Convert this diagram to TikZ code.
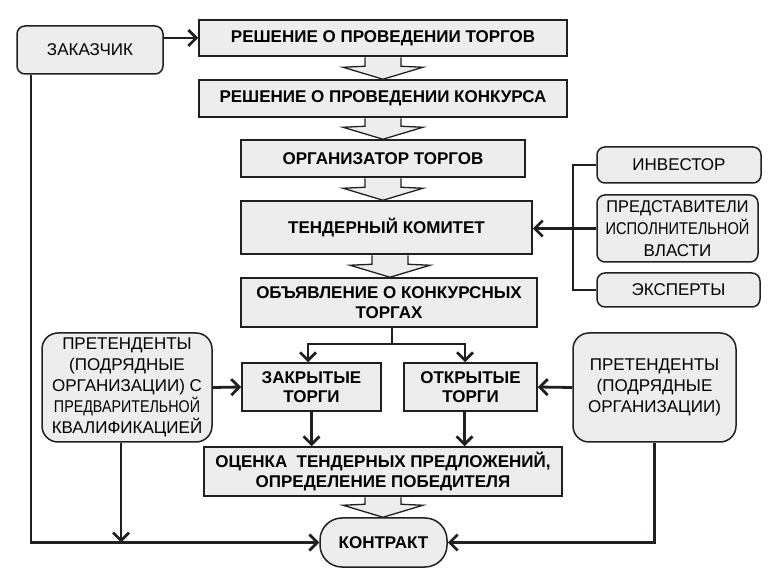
\documentclass[tikz,border=0pt]{standalone}
\usepackage{fontspec}
\setmainfont{Liberation Sans}
\usepackage{tikz}
\usetikzlibrary{calc,positioning,arrows.meta}
\definecolor{boxfill}{HTML}{EDEDED}
\definecolor{ink}{HTML}{231F20}
\tikzset{bx/.style={draw=ink,fill=boxfill,rectangle,line width=1.5pt,inner
sep=0pt,align=center,font=\fontsize{17}{19.5}\selectfont\bfseries},rb/.style={draw=ink,fill=boxfill,rectangle,rounded corners=8pt,line width=1.5pt,inner
sep=0pt,align=center,font=\fontsize{17}{21}\selectfont},ln/.style={draw=ink,line width=2.8pt},arr/.style={ln,-{Straight Barb[length=8pt,width=16pt]}},fat/.style={draw=ink,fill=boxfill,line width=1.3pt,line join=miter}}
% hollow arrow: upper node, lower node, x
\newcommand\fatarr[3]{\draw[fat] let \p1=(#1.south), \p2=(#2.north) in
	(#3pt-18pt,\y1-0.75pt) -- (#3pt-18pt,\y2+13pt) -- (#3pt-40pt,\y2+12pt) -- (#3pt,\y2)
	-- (#3pt+40pt,\y2+12pt) -- (#3pt+18pt,\y2+13pt) -- (#3pt+18pt,\y1-0.75pt);}
\newcommand\narrow[2]{\scalebox{#1}[1]{#2}}

\begin{document}
\begin{tikzpicture}[x=1pt,y=1pt]
		\useasboundingbox (0,0) rectangle (778,575);
		% main column
		\node[bx,minimum width=368pt,minimum height=36pt] (resh1) at (383,537) {РЕШЕНИЕ О ПРОВЕДЕНИИ ТОРГОВ};
		\node[bx,minimum width=368pt,minimum height=37pt] (resh2) at (383,476.5) {РЕШЕНИЕ О ПРОВЕДЕНИИ КОНКУРСА};
		\node[bx,minimum width=284pt,minimum height=37pt] (org) at (383,416.5) {ОРГАНИЗАТОР ТОРГОВ};
		\node[bx,minimum width=291pt,minimum height=53pt] (tend) at (386.5,347.5) {ТЕНДЕРНЫЙ КОМИТЕТ};
		\node[bx,minimum width=296pt,minimum height=49pt] (obj) at (389,272.5) {ОБЪЯВЛЕНИЕ О КОНКУРСНЫХ\\ТОРГАХ};
		\node[bx,minimum width=139pt,minimum height=48pt] (zakr) at (311.5,188) {ЗАКРЫТЫЕ\\ТОРГИ};
		\node[bx,minimum width=133pt,minimum height=48pt] (otkr) at (470.5,188) {ОТКРЫТЫЕ\\ТОРГИ};
		\node[bx,minimum width=358pt,minimum height=49pt] (ots) at (383,103.5) {ОЦЕНКА\ \ ТЕНДЕРНЫХ ПРЕДЛОЖЕНИЙ,\\ОПРЕДЕЛЕНИЕ ПОБЕДИТЕЛЯ};
		\node[bx,rounded corners=22pt,minimum width=127pt,minimum height=49pt] (kontr) at (383.5,32.5) {КОНТРАКТ};
		% side boxes
		\node[rb,minimum width=146pt,minimum height=48pt] (zak) at (90,525) {ЗАКАЗЧИК};
		\node[rb,rounded corners=16pt,minimum width=170pt,minimum height=109pt] (pretL) at (127,187.5)
			{ПРЕТЕНДЕНТЫ\\(ПОДРЯДНЫЕ\\ОРГАНИЗАЦИИ) С\\\narrow{0.84}{ПРЕДВАРИТЕЛЬНОЙ}\\КВАЛИФИКАЦИЕЙ};
		\node[rb,rounded corners=16pt,minimum width=163pt,minimum height=109pt] (pretR) at (654.5,187.5)
			{ПРЕТЕНДЕНТЫ\\(ПОДРЯДНЫЕ\\ОРГАНИЗАЦИИ)};
		\node[rb,minimum width=164pt,minimum height=36pt] (inv) at (679,410) {ИНВЕСТОР};
		\node[rb,minimum width=161pt,minimum height=67pt,font=\fontsize{17}{22}\selectfont] (pred) at (677.5,346.5)
			{\narrow{0.96}{ПРЕДСТАВИТЕЛИ}\\\narrow{0.86}{ИСПОЛНИТЕЛЬНОЙ}\\ВЛАСТИ};
		\node[rb,minimum width=163pt,minimum height=34pt] (eksp) at (678.5,285) {ЭКСПЕРТЫ};
		% hollow arrows
		\fatarr{resh1}{resh2}{383}
		\fatarr{resh2}{org}{383}
		\fatarr{org}{tend}{383}
		\fatarr{tend}{obj}{390}
		\fatarr{ots}{kontr}{383}
		% connectors
		\coordinate (br) at (392,231);
		\coordinate (bus) at (573,346.5);
		\coordinate (zl) at ([xshift=-59pt]zak.south);
		\coordinate (pl) at ([xshift=-6pt]pretL.south);
		\draw[arr] (zak.east |- resh1.west) -- (resh1.west);
		\draw[ln] (inv.west) -| (bus) |- (eksp.west);
		\draw[ln] (pred.west) -- (bus);
		\draw[arr] (bus) -- (tend.east |- bus);
		\draw[ln] ([xshift=3pt]obj.south) -- (br);
		\draw[arr] (br) -| ([xshift=-3.5pt]zakr.north);
		\draw[arr] (br) -| ([xshift=-5.5pt]otkr.north);
		\draw[arr] (pretL.east) -- (zakr.west);
		\draw[arr] (pretR.west) -- (otkr.east);
		\draw[arr] (zakr.south) -- (zakr.south |- ots.north);
		\draw[arr] ([xshift=-6pt]otkr.south) -- ([xshift=-6pt]otkr.south |- ots.north);
		\draw[arr] (zl) |- (kontr.west);
		\draw[arr] (pl) -- (pl |- kontr.west);
		\draw[arr] (pretR.south) |- (kontr.east);
	\end{tikzpicture}
\end{document}
